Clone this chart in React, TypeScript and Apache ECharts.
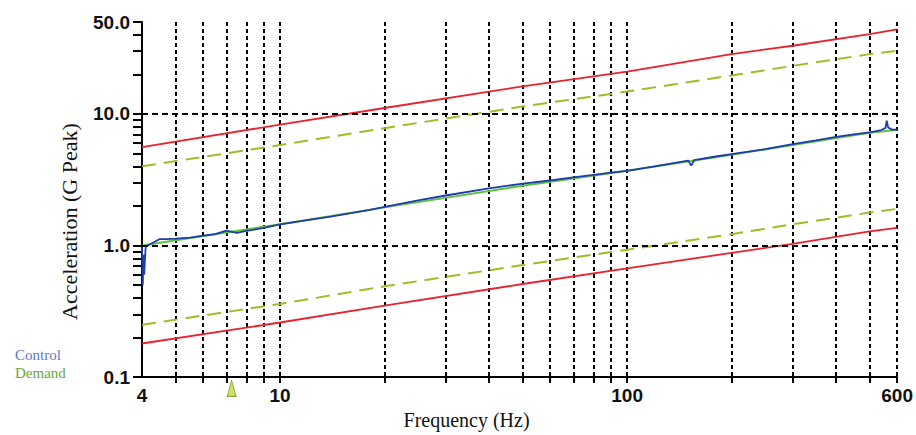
import React, { useEffect, useRef } from "react";
import * as echarts from "echarts";

// Frequencies (Hz) at which the profile/limit lines were read
const boundFreq = [4, 10, 20, 50, 100, 200, 300, 500, 600];
const demandVals = [1.0, 1.45, 1.95, 2.85, 3.7, 4.9, 5.8, 7.2, 7.6];
const upperAbort = [5.6, 8.3, 11.1, 16.2, 21, 28.5, 33, 40.5, 44];
const upperAlarm = [4.0, 5.8, 7.8, 11.4, 14.8, 19.6, 23.2, 28.5, 30.2];
const lowerAlarm = [0.25, 0.36, 0.49, 0.71, 0.93, 1.22, 1.45, 1.78, 1.9];
const lowerAbort = [0.18, 0.26, 0.35, 0.51, 0.67, 0.88, 1.03, 1.28, 1.36];

// Control (measured) trace
const ctrlFreq = [4.0, 4.02, 4.04, 4.06, 4.08, 4.1, 4.3, 4.5, 4.7, 5, 5.5, 6, 6.5, 7, 7.5, 8, 9, 10, 12, 14, 16, 18, 20, 25, 30, 40, 50, 60, 70, 80, 90, 100, 120, 150, 153, 156, 180, 200, 250, 300, 350, 400, 450, 500, 540, 555, 560, 565, 580, 600];
const ctrlVals = [0.97, 0.5, 0.85, 0.6, 0.8, 0.98, 1.05, 1.12, 1.12, 1.13, 1.15, 1.19, 1.22, 1.3, 1.25, 1.29, 1.36, 1.45, 1.56, 1.66, 1.76, 1.86, 1.97, 2.2, 2.4, 2.72, 2.95, 3.12, 3.3, 3.45, 3.58, 3.7, 4.0, 4.42, 4.05, 4.45, 4.75, 4.95, 5.4, 5.9, 6.3, 6.7, 7.0, 7.25, 7.55, 7.8, 8.9, 7.9, 7.6, 7.6];

// Axis ticks / labels / horizontal grid lines
const xTickVals = [5, 6, 7, 8, 9, 10, 20, 30, 40, 50, 60, 70, 80, 90, 100, 200, 300, 400, 500, 600];
const xLabelVals = [4, 10, 100, 600];
const yTickVals = [0.1, 0.2, 0.3, 0.4, 0.5, 0.6, 0.7, 0.8, 0.9, 1, 2, 3, 4, 5, 6, 7, 8, 9, 10, 20, 30, 40, 50];
const yLabelVals = [0.1, 1, 10, 50];
const hGridVals = [1, 10];

// Sweep-position marker
const markerPoint = [[7.25, 0.082]];

const zip = (xs: number[], ys: number[]) => xs.map((x, i) => [x, ys[i]]);

export default function App() {
  const ref = useRef<HTMLDivElement>(null);
  useEffect(() => {
    if (!ref.current) return;
    const chart = echarts.init(ref.current, null, { renderer: "svg" });
    const tickFont = { fontFamily: "Liberation Sans", fontWeight: "bold" as const, fontSize: 19, color: "#111" };
    chart.setOption({
      animation: false,
      backgroundColor: "#fff",
      grid: { left: 142, right: 18, top: 22, bottom: 55 },
      legend: {
        orient: "vertical",
        left: 5,
        top: 342,
        icon: "none",
        itemWidth: 0,
        itemHeight: 14,
        itemGap: 3,
        selectedMode: false,
        textStyle: { fontFamily: "Liberation Serif", fontSize: 15 },
        data: [
          { name: "Control", textStyle: { color: "#5b78cc" } },
          { name: "Demand", textStyle: { color: "#6aa83c" } },
        ],
      },
      xAxis: [
        {
          type: "log",
          logBase: 10,
          min: 4,
          max: 600,
          name: "Frequency (Hz)",
          nameLocation: "middle",
          nameGap: 21,
          nameTextStyle: { fontFamily: "Liberation Serif", fontSize: 20, color: "#111", padding: [0, 106, 0, 0] },
          axisLine: { show: true, lineStyle: { color: "#000", width: 2 } },
          axisTick: { show: true, customValues: xTickVals, length: 6, lineStyle: { color: "#000", width: 2 } },
          axisLabel: { customValues: xLabelVals, margin: 9, ...tickFont, formatter: (v: number) => String(Math.round(v)) },
          splitLine: { show: true, lineStyle: { color: "#000", width: 2, type: [4, 3] } },
        },
      ],
      yAxis: [
        {
          type: "log",
          min: 0.1,
          max: 50,
          name: "Acceleration (G Peak)",
          nameLocation: "middle",
          nameGap: 62,
          nameTextStyle: { fontFamily: "Liberation Serif", fontSize: 22, color: "#111", padding: [0, 44, 0, 0] },
          axisLine: { show: true, lineStyle: { color: "#000", width: 2 } },
          axisTick: { show: true, customValues: yTickVals, length: 9, lineStyle: { color: "#000", width: 2 } },
          axisLabel: { customValues: yLabelVals, margin: 12, ...tickFont, formatter: (v: number) => v.toFixed(1) },
          splitLine: { show: false },
        },
      ],
      series: [
        { name: "Upper Abort", type: "line", data: zip(boundFreq, upperAbort), showSymbol: false, lineStyle: { color: "#e8222e", width: 1.8 }, itemStyle: { color: "#e8222e" } },
        { name: "Upper Alarm", type: "line", data: zip(boundFreq, upperAlarm), showSymbol: false, lineStyle: { color: "#9dbd25", width: 2, type: [14, 8] }, itemStyle: { color: "#9dbd25" } },
        { name: "Lower Alarm", type: "line", data: zip(boundFreq, lowerAlarm), showSymbol: false, lineStyle: { color: "#9dbd25", width: 2, type: [14, 8] }, itemStyle: { color: "#9dbd25" } },
        { name: "Lower Abort", type: "line", data: zip(boundFreq, lowerAbort), showSymbol: false, lineStyle: { color: "#e8222e", width: 1.8 }, itemStyle: { color: "#e8222e" } },
        {
          name: "Demand",
          type: "line",
          data: zip(boundFreq, demandVals),
          showSymbol: false,
          lineStyle: { color: "#5cc23a", width: 2 },
          itemStyle: { color: "#5cc23a" },
          markLine: {
            silent: true,
            symbol: "none",
            label: { show: false },
            lineStyle: { color: "#000", width: 2, type: [6, 4] },
            data: hGridVals.map((v) => ({ yAxis: v })),
          },
        },
        { name: "Control", type: "line", data: zip(ctrlFreq, ctrlVals), showSymbol: false, lineStyle: { color: "#1d3cae", width: 1.8 }, itemStyle: { color: "#1d3cae" } },
        {
          name: "Marker",
          type: "scatter",
          data: markerPoint,
          clip: false,
          symbol: "triangle",
          symbolSize: [9, 16],
          itemStyle: { color: "#c6d743", borderColor: "#6f8f1f", borderWidth: 1 },
          z: 5,
        },
      ],
    });
    return () => chart.dispose();
  }, []);
  return <div ref={ref} style={{ position: "fixed", left: 0, top: 0, width: 916, height: 435 }} />;
}
